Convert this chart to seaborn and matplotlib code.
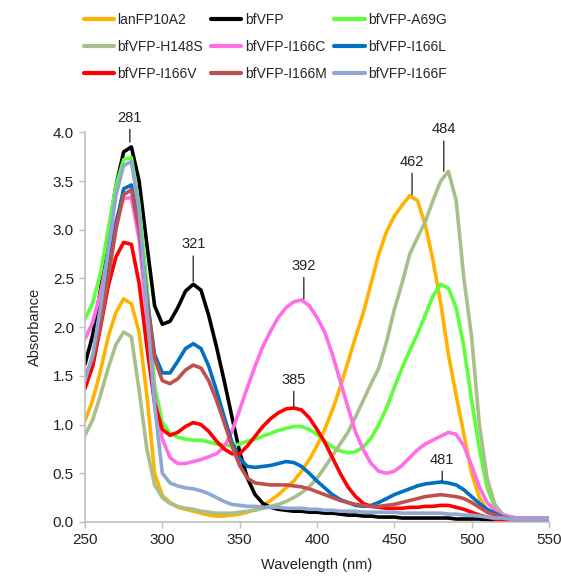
import numpy as np
import pandas as pd
import seaborn as sns
import matplotlib.pyplot as plt

# Eje X: longitud de onda (nm), cada 5 nm
wavelength = np.arange(250, 551, 5)

# Absorbancia (250 ... 550 nm)
lanFP10A2 = [1.04, 1.25, 1.55, 1.9, 2.15, 2.29, 2.24, 1.95, 1.3, 0.5,
             0.27, 0.2, 0.15, 0.13, 0.11, 0.09, 0.07, 0.06, 0.06, 0.07,
             0.08, 0.1, 0.13, 0.17, 0.22, 0.28, 0.35, 0.42, 0.52, 0.64,
             0.78, 0.95, 1.15, 1.38, 1.64, 1.9, 2.15, 2.45, 2.75, 2.98,
             3.14, 3.25, 3.35, 3.3, 3.05, 2.69, 2.25, 1.72, 1.3, 0.9,
             0.5, 0.25, 0.12, 0.07, 0.05, 0.04, 0.03, 0.03, 0.03, 0.03,
             0.03]
bfVFP = [1.62, 1.92, 2.38, 2.95, 3.45, 3.8, 3.85, 3.5, 2.85, 2.22,
         2.03, 2.06, 2.2, 2.37, 2.44, 2.38, 2.12, 1.8, 1.45, 1.08,
         0.72, 0.45, 0.28, 0.19, 0.15, 0.13, 0.12, 0.11, 0.11, 0.1,
         0.1, 0.09, 0.09, 0.08, 0.07, 0.07, 0.06, 0.06, 0.05, 0.05,
         0.05, 0.04, 0.04, 0.04, 0.04, 0.04, 0.04, 0.04, 0.03, 0.03,
         0.03, 0.03, 0.02, 0.02, 0.02, 0.02, 0.02, 0.02, 0.02, 0.02,
         0.02]
a69g = [2.08, 2.25, 2.55, 3.0, 3.45, 3.72, 3.74, 3.25, 2.45, 1.4,
        1.02, 0.91, 0.87, 0.85, 0.84, 0.84, 0.82, 0.8, 0.79, 0.78,
        0.8, 0.83, 0.85, 0.88, 0.91, 0.94, 0.96, 0.98, 0.98, 0.95,
        0.9, 0.83, 0.77, 0.73, 0.71, 0.72, 0.77, 0.86, 1.0, 1.17,
        1.38, 1.58, 1.76, 1.93, 2.12, 2.32, 2.44, 2.4, 2.2, 1.8,
        1.25, 0.75, 0.35, 0.15, 0.08, 0.05, 0.04, 0.04, 0.04, 0.04,
        0.04]
h148s = [0.89, 1.05, 1.3, 1.58, 1.82, 1.95, 1.9, 1.35, 0.75, 0.38,
         0.25, 0.19, 0.16, 0.14, 0.13, 0.11, 0.1, 0.09, 0.09, 0.09,
         0.1, 0.11, 0.12, 0.14, 0.16, 0.18, 0.21, 0.25, 0.3, 0.36,
         0.45, 0.56, 0.68, 0.8, 0.92, 1.08, 1.25, 1.42, 1.58, 1.85,
         2.18, 2.45, 2.75, 2.92, 3.08, 3.3, 3.5, 3.6, 3.3, 2.5,
         1.9, 1.0, 0.45, 0.18, 0.08, 0.05, 0.04, 0.04, 0.04, 0.04,
         0.04]
i166c = [1.88, 2.05, 2.35, 2.75, 3.1, 3.32, 3.33, 2.9, 2.1, 1.3,
         0.85, 0.66, 0.6, 0.6, 0.62, 0.64, 0.67, 0.7, 0.77, 0.93,
         1.15, 1.38, 1.6, 1.8, 1.96, 2.1, 2.2, 2.26, 2.28, 2.22,
         2.1, 1.95, 1.72, 1.45, 1.18, 0.92, 0.74, 0.6, 0.52, 0.5,
         0.52, 0.58, 0.66, 0.74, 0.8, 0.84, 0.88, 0.92, 0.9, 0.78,
         0.58, 0.36, 0.2, 0.12, 0.07, 0.05, 0.04, 0.04, 0.04, 0.04,
         0.04]
i166l = [1.42, 1.62, 2.02, 2.55, 3.05, 3.42, 3.46, 3.05, 2.3, 1.72,
         1.53, 1.53, 1.65, 1.78, 1.83, 1.78, 1.6, 1.35, 1.08, 0.82,
         0.65, 0.57, 0.56, 0.57, 0.58, 0.6, 0.62, 0.61, 0.57, 0.5,
         0.42, 0.35, 0.28, 0.23, 0.2, 0.17, 0.16, 0.17, 0.2, 0.24,
         0.28, 0.31, 0.34, 0.37, 0.39, 0.4, 0.41, 0.4, 0.38, 0.33,
         0.26, 0.19, 0.13, 0.09, 0.05, 0.03, 0.02, 0.02, 0.02, 0.02,
         0.02]
i166v = [1.37, 1.6, 2.0, 2.42, 2.72, 2.87, 2.85, 2.45, 1.8, 1.22,
         0.95, 0.89, 0.92, 0.98, 1.02, 1.0, 0.93, 0.83, 0.75, 0.7,
         0.7, 0.78, 0.88, 0.98, 1.06, 1.12, 1.16, 1.17, 1.15, 1.07,
         0.95, 0.82, 0.66, 0.5, 0.36, 0.26, 0.19, 0.16, 0.15, 0.14,
         0.14, 0.14, 0.15, 0.15, 0.16, 0.16, 0.17, 0.17, 0.15, 0.13,
         0.1, 0.07, 0.05, 0.03, 0.02, 0.02, 0.02, 0.02, 0.02, 0.02,
         0.02]
i166m = [1.5, 1.67, 2.02, 2.5, 3.0, 3.36, 3.41, 3.0, 2.3, 1.68,
         1.45, 1.42, 1.47, 1.56, 1.61, 1.58, 1.45, 1.25, 1.02, 0.78,
         0.58, 0.45, 0.4, 0.39, 0.38, 0.38, 0.38, 0.37, 0.36, 0.34,
         0.31, 0.28, 0.25, 0.22, 0.2, 0.18, 0.17, 0.16, 0.16, 0.17,
         0.18, 0.2, 0.22, 0.24, 0.26, 0.27, 0.28, 0.27, 0.26, 0.24,
         0.2, 0.15, 0.1, 0.07, 0.04, 0.03, 0.02, 0.02, 0.02, 0.02,
         0.02]
i166f = [1.45, 1.72, 2.2, 2.8, 3.35, 3.66, 3.7, 3.2, 2.2, 1.2,
         0.5, 0.4, 0.37, 0.35, 0.34, 0.32, 0.29, 0.25, 0.21, 0.18,
         0.17, 0.16, 0.16, 0.15, 0.15, 0.15, 0.14, 0.14, 0.14, 0.13,
         0.13, 0.12, 0.12, 0.11, 0.11, 0.11, 0.1, 0.1, 0.1, 0.1,
         0.1, 0.09, 0.09, 0.09, 0.09, 0.09, 0.09, 0.08, 0.08, 0.07,
         0.07, 0.06, 0.05, 0.04, 0.04, 0.03, 0.03, 0.03, 0.03, 0.03,
         0.03]

muestras = ['lanFP10A2', 'bfVFP', 'bfVFP-A69G',
            'bfVFP-H148S', 'bfVFP-I166C', 'bfVFP-I166L',
            'bfVFP-I166V', 'bfVFP-I166M', 'bfVFP-I166F']
series = [lanFP10A2, bfVFP, a69g, h148s, i166c, i166l, i166v, i166m, i166f]
colores = ['#FFB300', '#000000', '#5CFF3A',
           '#A8BF8C', '#FF6EE6', '#0070C0',
           '#FF0000', '#C0504D', '#8FA7D3']

# Etiquetas de picos: (texto, x, y del texto, y de la punta)
picos = ['281', '321', '392', '385', '462', '484', '481']
picos_x = [279, 320, 391.5, 385, 461.5, 482, 481]
picos_y_texto = [4.15, 2.85, 2.63, 1.46, 3.70, 4.03, 0.64]
picos_y_punta = [3.9, 2.47, 2.29, 1.18, 3.36, 3.60, 0.42]

# Tabla en formato largo para seaborn
df = pd.concat([
    pd.DataFrame({'wl': wavelength, 'abs': vals, 'muestra': nombre})
    for nombre, vals in zip(muestras, series)
], ignore_index=True)

sns.set_style('white')
plt.rcParams['font.family'] = ['Liberation Sans', 'DejaVu Sans']

fig = plt.figure(figsize=(5.61, 5.78), dpi=100)
ax = fig.add_axes([0.1515, 0.097, 0.827, 0.674])

sns.lineplot(data=df, x='wl', y='abs', hue='muestra', hue_order=muestras,
             palette=dict(zip(muestras, colores)), linewidth=2.6,
             solid_joinstyle='round', solid_capstyle='round',
             ax=ax, legend=True)

handles, labels = ax.get_legend_handles_labels()
ax.get_legend().remove()

# matplotlib rellena por columnas; reordenar para que se lea por filas
orden = [0, 3, 6, 1, 4, 7, 2, 5, 8]
leg = fig.legend([handles[i] for i in orden], [labels[i] for i in orden],
                 ncol=3, loc='upper left', bbox_to_anchor=(0.149, 0.978),
                 frameon=False, fontsize=10, handlelength=2.2,
                 handletextpad=0.25, columnspacing=0.55, labelspacing=0.93,
                 borderpad=0, borderaxespad=0)
for linea in leg.get_lines():
    linea.set_linewidth(3)

for txt, x, yt, yp in zip(picos, picos_x, picos_y_texto, picos_y_punta):
    ax.annotate(txt, xy=(x, yp), xytext=(x, yt), ha='center', va='center',
                fontsize=10.5, color='#222222', annotation_clip=False,
                arrowprops=dict(arrowstyle='-', color='#333333', lw=1,
                                shrinkA=1, shrinkB=0))

ax.set_xlim(250, 550)
ax.set_ylim(0, 4.0)
ax.set_xticks(range(250, 551, 50))
ax.set_yticks(np.arange(0, 4.01, 0.5))
ax.yaxis.set_major_formatter(plt.FormatStrFormatter('%.1f'))
ax.set_xlabel('Wavelength (nm)', fontsize=10.5, color='#222222', labelpad=8)
ax.set_ylabel('Absorbance', fontsize=10.5, color='#222222', labelpad=8)
ax.tick_params(axis='both', direction='out', length=4, width=1,
               color='#BFBFBF', labelsize=11, labelcolor='#222222', pad=4)
ax.tick_params(axis='x', bottom=True)
ax.tick_params(axis='y', left=True)
for lado in ['top', 'right']:
    ax.spines[lado].set_visible(False)
for lado in ['left', 'bottom']:
    ax.spines[lado].set_color('#BFBFBF')
    ax.spines[lado].set_linewidth(1.2)

fig.savefig('out.png', dpi=100)
